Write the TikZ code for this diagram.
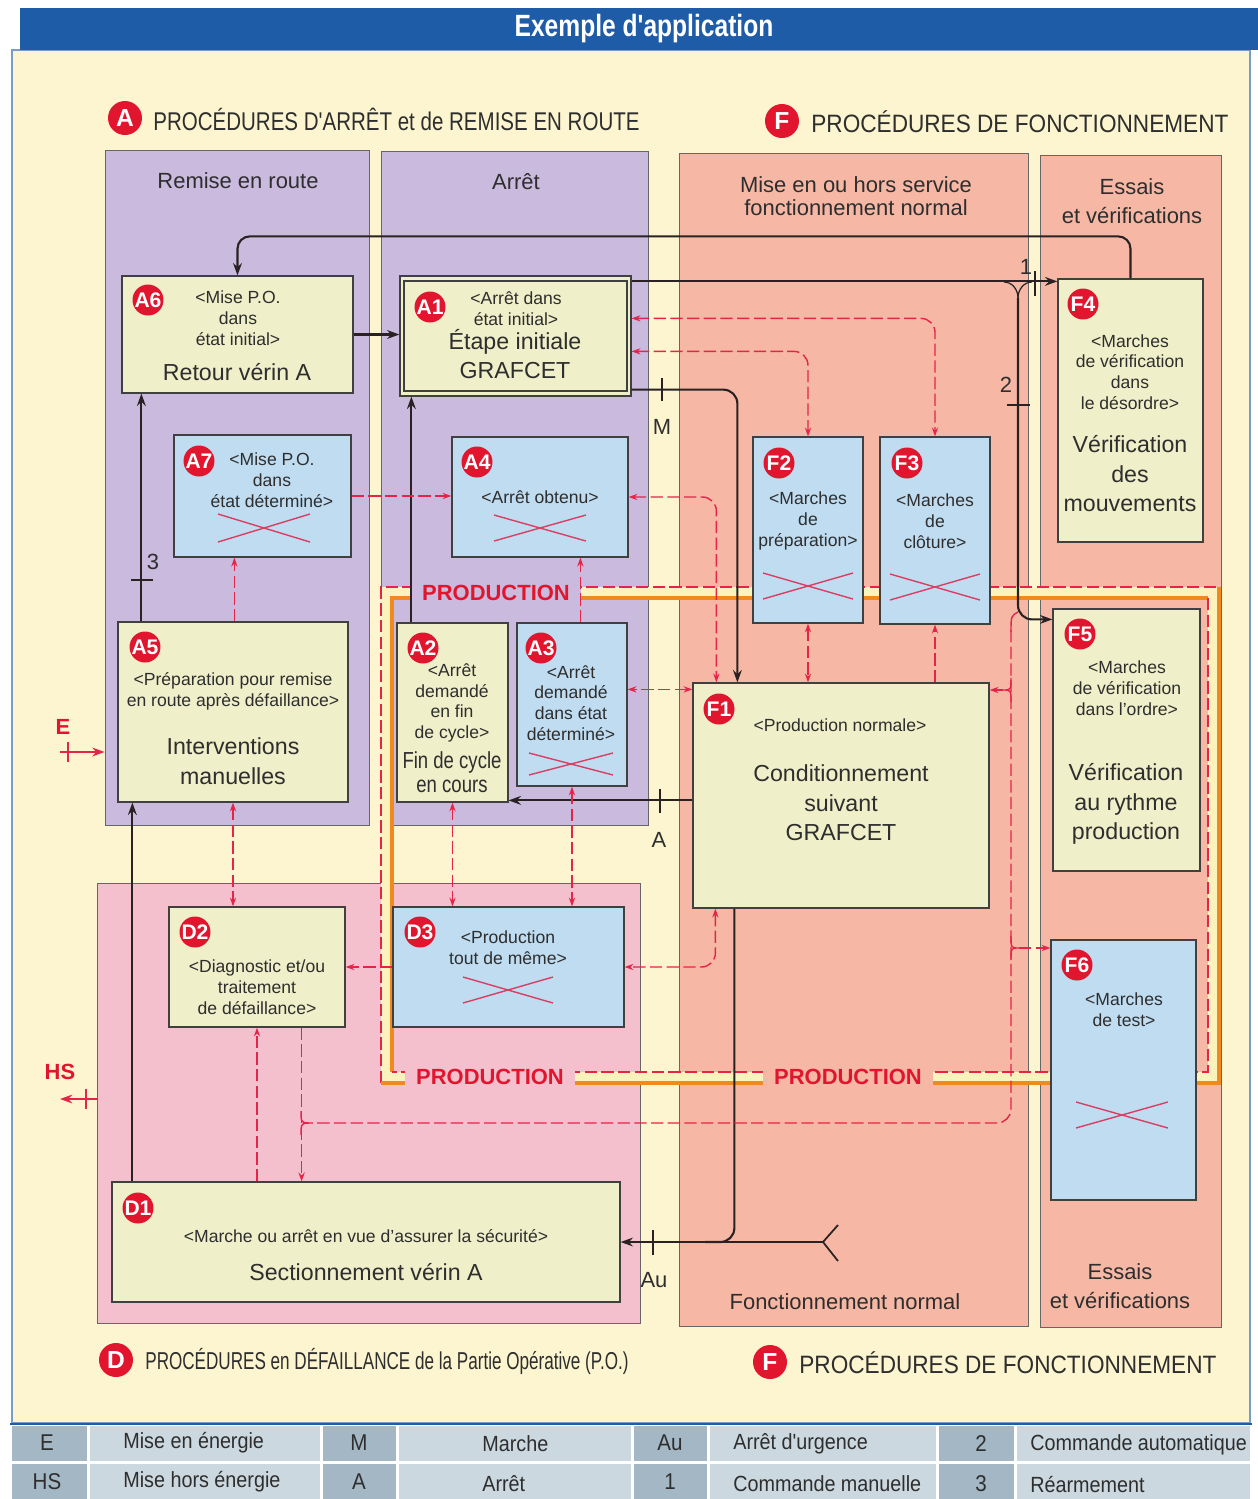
\documentclass[tikz,border=0pt]{standalone}
\usepackage{fontspec}
\setmainfont{Liberation Sans}
\newfontfamily\condA[FakeStretch=0.8]{Liberation Sans}
\newfontfamily\condB[FakeStretch=0.9]{Liberation Sans}
\newfontfamily\condC[FakeStretch=0.7]{Liberation Sans}
\usepackage{xcolor}
\usetikzlibrary{arrows.meta,positioning,calc,fit}
\definecolor{fond}{HTML}{FCF5D0}
\definecolor{bandeau}{HTML}{1F5CA8}
\definecolor{zviolet}{HTML}{C9BADE}
\definecolor{zsaumon}{HTML}{F6B8A5}
\definecolor{zrose}{HTML}{F5C0CD}
\definecolor{ecreme}{HTML}{EFEFC9}
\definecolor{ebleu}{HTML}{BFDCF1}
\definecolor{rouge}{HTML}{E1152E}
\definecolor{rtirets}{HTML}{E42449}
\definecolor{rcroix}{HTML}{DA3F63}
\definecolor{borange}{HTML}{F18A1E}
\definecolor{bcreme}{HTML}{FBF2BE}
\definecolor{encre}{HTML}{2A2222}
\definecolor{texte}{HTML}{2E2E2E}
\definecolor{lcle}{HTML}{A3B7C5}
\definecolor{lclair}{HTML}{CCD8DF}
\tikzset{
  zone/.style={draw=black!60,line width=0.5pt,inner sep=0pt},
  etape/.style={draw=black!75,fill=ecreme,line width=0.7pt,inner sep=0pt},
  etapeb/.style={etape,fill=ebleu},
  puce/.style={circle,fill=rouge,text=white,inner sep=0pt,minimum size=0.62cm,
               font=\fontsize{12}{12}\selectfont\bfseries},
  petit/.style={align=center,inner sep=0pt,text=texte,
                font=\fontsize{10}{11.8}\selectfont},
  grand/.style={align=center,inner sep=0pt,text=texte,
                font=\fontsize{13.2}{16.8}\selectfont},
  titre/.style={align=center,inner sep=0pt,text=texte,
                font=\fontsize{12.5}{16.5}\selectfont},
  entete/.style={inner sep=0pt,anchor=west,text=texte},
  repere/.style={inner sep=0pt,text=texte,font=\fontsize{12.5}{12.5}\selectfont},
  prod/.style={inner xsep=0.22cm,inner ysep=0.16cm,text=rouge,
               font=\fontsize{12.5}{12.5}\selectfont\bfseries},
  flux/.style={draw=encre,line width=1.2pt,-{Stealth[length=7pt,width=5pt]}},
  trait/.style={draw=encre,line width=1.2pt},
  cran/.style={draw=encre,line width=1pt},
  rplein/.style={draw=rtirets,line width=1pt,-{Stealth[length=7pt,width=5pt]}},
  rflux/.style={draw=rtirets,line width=0.8pt,dash pattern=on 7pt off 2.5pt,
                -{Stealth[length=5pt,width=3.5pt]}},
  rflux2/.style={rflux,{Stealth[length=5pt,width=3.5pt]}-{Stealth[length=5pt,width=3.5pt]}},
  rtrait/.style={draw=rtirets,line width=0.8pt,dash pattern=on 7pt off 2.5pt},
  rjonc/.style={draw=rtirets,line width=0.8pt},
  croix/.style={draw=rcroix,line width=0.8pt},
  bandor/.style={draw=borange,line width=1.8pt},
  bandtir/.style={draw=rtirets,line width=0.9pt,dash pattern=on 7pt off 2.5pt},
  cle/.style={inner sep=0pt,text=texte,font=\condB\fontsize{13}{13}\selectfont},
  legende/.style={inner sep=0pt,anchor=west,text=texte,
                  font=\condB\fontsize{12.5}{12.5}\selectfont}
}
\newcommand{\croix}[4]{\draw[croix] ({#1-#3},{#2-#4}) -- ({#1+#3},{#2+#4})
  ({#1-#3},{#2+#4}) -- ({#1+#3},{#2-#4});}

\begin{document}
\begin{tikzpicture}[x=0.02cm,y=-0.02cm]
  \useasboundingbox (0,0) rectangle (1258,1499);
  \fill[white] (0,0) rectangle (1258,1499);
  % cadre et bandeau
  \draw[fill=fond,draw=bandeau!60,line width=1pt] (12,50) rectangle (1250,1423);
  \fill[bandeau] (20,8) rectangle (1258,50);
  \node[text=white,font=\condA\fontsize{17.5}{17.5}\selectfont\bfseries] (titre)
    at (644,29) {Exemple d'application};

  % en-tetes
  \node[puce,minimum size=0.68cm,font=\fontsize{14}{14}\selectfont\bfseries] (pa) at (125,118) {A};
  \node[entete,font=\condA\fontsize{14.6}{14.6}\selectfont] (ha) at (153,119)
    {PROCÉDURES D'ARRÊT et de REMISE EN ROUTE};
  \node[puce,minimum size=0.68cm,font=\fontsize{14}{14}\selectfont\bfseries] (pf) at (782,121) {F};
  \node[entete,font=\condB\fontsize{14.3}{14.3}\selectfont] (hf) at (811,122)
    {PROCÉDURES DE FONCTIONNEMENT};
  \node[puce,minimum size=0.68cm,font=\fontsize{14}{14}\selectfont\bfseries] (pd) at (116,1360) {D};
  \node[entete,font=\condC\fontsize{13.9}{13.9}\selectfont] (hd) at (145,1361)
    {PROCÉDURES en DÉFAILLANCE de la Partie Opérative (P.O.)};
  \node[puce,minimum size=0.68cm,font=\fontsize{14}{14}\selectfont\bfseries] (pf2) at (770,1362) {F};
  \node[entete,font=\condB\fontsize{14.3}{14.3}\selectfont] (hf2) at (799,1363)
    {PROCÉDURES DE FONCTIONNEMENT};

  % zones
  \node[zone,fill=zviolet,fit={(105,150) (369,825)}] (zrr) {};
  \node[zone,fill=zviolet,fit={(381,151) (648,825)}] (zar) {};
  \node[zone,fill=zsaumon,fit={(679,153) (1028,1326)}] (zfn) {};
  \node[zone,fill=zsaumon,fit={(1040,155) (1221,1327)}] (zev) {};
  \node[zone,fill=zrose,fit={(97,883) (640,1323)}] (zd) {};
  \node[titre] (trr) at (238,181) {Remise en route};
  \node[titre] (tar) at (516,182) {Arrêt};
  \node[titre,font=\fontsize{12.5}{13.2}\selectfont] (tfn) at (856,196)
    {Mise en ou hors service\\fonctionnement normal};
  \node[titre] (tev) at (1132,201) {Essais\\et vérifications};
  \node[titre] (tfn2) at (845,1302) {Fonctionnement normal};
  \node[titre] (tev2) at (1120,1286) {Essais\\et vérifications};

  % boucle PRODUCTION
  \draw[draw=bcreme,line width=6.3pt] (386.5,592.5) rectangle (1213.5,1077.5);
  \draw[bandtir] (381,1083) -- (381,587) -- (1219,587);
  \draw[bandor] (381,1083) -- (1219,1083) -- (1219,587);
  \draw[bandor] (392,1072) -- (392,598) -- (1208,598);
  \draw[bandtir] (1208,598) -- (1208,1072) -- (392,1072);
  \node[prod,fill=zviolet] (prod1) at (496,593) {PRODUCTION};
  \node[prod,fill=zrose] (prod2) at (490,1077) {PRODUCTION};
  \node[prod,fill=zsaumon] (prod3) at (848,1077) {PRODUCTION};

  % etapes
  \node[etape,fit={(122,276) (353,393)}] (a6) {};
  \node[etape,fit={(400,276) (631,396)}] (a1) {};
  \node[draw=black!75,line width=0.6pt,inner sep=0pt,fit={(404,281) (627,391)}] (a1d) {};
  \node[etapeb,fit={(174,435) (351,557)}] (a7) {};
  \node[etapeb,fit={(452,437) (628,557)}] (a4) {};
  \node[etape,fit={(118,622) (348,802)}] (a5) {};
  \node[etape,fit={(397,623) (508,802)}] (a2) {};
  \node[etapeb,fit={(517,623) (627,786)}] (a3) {};
  \node[etapeb,fit={(753,437) (863,623)}] (f2) {};
  \node[etapeb,fit={(880,437) (990,624)}] (f3) {};
  \node[etape,fit={(1058,279) (1203,542)}] (f4) {};
  \node[etape,fit={(693,683) (989,908)}] (f1) {};
  \node[etape,fit={(1053,609) (1200,871)}] (f5) {};
  \node[etapeb,fit={(1051,940) (1196,1200)}] (f6) {};
  \node[etape,fit={(169,907) (345,1027)}] (d2) {};
  \node[etapeb,fit={(393,907) (624,1027)}] (d3) {};
  \node[etape,fit={(112,1182) (620,1302)}] (d1) {};

  % liaisons noires
  \draw[flux,rounded corners=7pt] (f4.north) -- ++(0,-42) -| (a6.north);
  \draw[flux] (a6.east) -- (a6.east -| a1.west);
  \coordinate (a1h) at ($(a1.north east)+(0,6)$);
  \draw[flux] (a1h) -- (a1h -| f4.west);
  \draw[cran] (1035,271) -- (1035,296);
  \node[repere] (n1) at (1026,267) {1};
  \coordinate (fk) at (1018,298);
  \draw[encre,line width=0.7pt] (1004,282) to[out=0,in=90] (fk);
  \draw[encre,line width=0.7pt] (1032,282) to[out=180,in=90] (fk);
  \coordinate (f5g) at ($(f5.north west)+(0,11)$);
  \draw[flux,rounded corners=8pt] (fk) |- (f5g);
  \draw[cran] (1007,405) -- (1030,405);
  \node[repere] (n2) at (1006,385) {2};
  \coordinate (f1m) at ($(f1.north west)+(45,0)$);
  \draw[flux,rounded corners=8pt] ($(a1.south east)+(0,-7)$) -| (f1m);
  \draw[cran] (662,378) -- (662,401);
  \node[repere] (nm) at (662,427) {M};
  \coordinate (f1a) at ($(f1.north west)+(0,118)$);
  \draw[flux] (f1a) -- (f1a -| a2.east);
  \draw[cran] (660,789) -- (660,813);
  \node[repere] (na) at (659,840) {A};
  \coordinate (a5r) at ($(a5.north west)+(24,0)$);
  \draw[flux] (a5r) -- (a5r |- a6.south);
  \draw[cran] (131,580) -- (153,580);
  \node[repere] (n3) at (153,562) {3};
  \coordinate (a2r) at ($(a2.north west)+(15,0)$);
  \draw[flux] (a2r) -- (a2r |- a1.south);
  \coordinate (d1r) at ($(d1.north west)+(21,0)$);
  \draw[flux] (d1r) -- (d1r |- a5.south);
  % arret d'urgence
  \coordinate (au) at (823,1242);
  \draw[flux] (au) -- (au -| d1.east);
  \draw[encre,line width=1pt] (au) -- ++(15,-17) (au) -- ++(15,19);
  \coordinate (f1u) at ($(f1.south west)+(42,0)$);
  \coordinate (auj) at (705,1242);
  \draw[trait,rounded corners=8pt] (f1u) |- (auj);
  \draw[cran] (653,1230) -- (653,1255);
  \node[repere] (nau) at (654,1280) {Au};
  % E et HS
  \coordinate (eg) at (60,752);
  \draw[rplein] (eg) -- (eg -| zrr.west);
  \draw[draw=rtirets,line width=1pt] (68,742) -- (68,762);
  \node[repere,text=rouge,font=\fontsize{12.5}{12.5}\selectfont\bfseries] (ne) at (63,727) {E};
  \coordinate (hs) at (60,1099);
  \draw[rplein] (hs -| zd.west) -- (hs);
  \draw[draw=rtirets,line width=1pt] (86,1089) -- (86,1109);
  \node[repere,text=rouge,font=\fontsize{12.5}{12.5}\selectfont\bfseries] (nhs) at (60,1072) {HS};

  % liaisons rouges
  \coordinate (a1f3) at ($(a1.north east)+(0,43)$);
  \draw[rflux2,rounded corners=8pt] (a1f3) -| (f3.north);
  \coordinate (a1f2) at ($(a1.north east)+(0,76)$);
  \draw[rflux2,rounded corners=8pt] (a1f2) -| (f2.north);
  \draw[rflux] (a7.east) -- (a7.east -| a4.west);
  \coordinate (a7p) at ($(a7.south west)+(61,0)$);
  \draw[rflux] (a7p |- a5.north) -- (a7p);
  \coordinate (a4p) at ($(a4.south west)+(129,0)$);
  \draw[rflux] (a4p |- a3.north) -- (a4p);
  \coordinate (f1p) at ($(f1.north west)+(24,0)$);
  \draw[rflux2,rounded corners=8pt] (a4.east) -| (f1p);
  \coordinate (f1q) at ($(f1.north west)+(0,7)$);
  \draw[rflux2] (f1q) -- (f1q -| a3.east);
  \draw[rflux2] (f2.south) -- (f2.south |- f1.north);
  \draw[rflux] (f3.south |- f1.north) -- (f3.south);
  \coordinate (f1s) at ($(f1.south west)+(23,0)$);
  \draw[rflux2,rounded corners=8pt] (f1s) |- (d3.east);
  \draw[rflux] (d3.west) -- (d3.west -| d2.east);
  \draw[rflux2] (a2.south) -- (a2.south |- d3.north);
  \draw[rflux2] (a3.south) -- (a3.south |- d3.north);
  \draw[rflux2] (a5.south) -- (a5.south |- d2.north);
  \draw[rflux] (d2.south |- d1.north) -- (d2.south);
  \coordinate (d2q) at ($(d2.south east)+(-44,0)$);
  \draw[rflux] (d2q) -- (d2q |- d1.north);
  % retour vers D
  \coordinate (jf) at (1011,1123);
  \coordinate (jd) at (313,1123);
  \draw[rtrait,rounded corners=8pt] (1011,630) -- (jf) -- (jd);
  \draw[rjonc] (jd) .. controls (301,1123) .. (301,1111)
    (jd) .. controls (301,1123) .. (301,1135);
  \draw[rjonc] (1018,612) .. controls (1011,616) .. (1011,632);
  \coordinate (jf1) at (1003,690);
  \draw[rjonc] (1011,678) .. controls (1011,690) .. (jf1)
    (1011,702) .. controls (1011,690) .. (jf1);
  \draw[rflux] (jf1) -- (jf1 -| f1.east);
  \coordinate (jf6) at (1019,948);
  \draw[rjonc] (1011,936) .. controls (1011,948) .. (jf6)
    (1011,960) .. controls (1011,948) .. (jf6);
  \draw[rflux] (jf6) -- (jf6 -| f6.west);

  % croix des etapes non utilisees
  \croix{264}{528}{46}{14}
  \croix{540}{528}{46}{13}
  \croix{571}{764}{42}{11}
  \croix{808}{586}{45}{13}
  \croix{935}{587}{45}{13}
  \croix{508}{990}{45}{13}
  \croix{1122}{1115}{46}{13}

  % textes des etapes
  \node[puce] (pa6) at (148,300) {A6};
  \node[petit] (a6t) at (238,318) {<Mise P.O.\\dans\\état initial>};
  \node[grand] (a6g) at (237,372) {Retour vérin A};
  \node[puce] (pa1) at (430,307) {A1};
  \node[petit] (a1t) at (516,309) {<Arrêt dans\\état initial>};
  \node[grand] (a1g) at (515,354) {Étape initiale\\GRAFCET};
  \node[puce] (pa7) at (199,461) {A7};
  \node[petit] (a7t) at (272,480) {<Mise P.O.\\dans\\état déterminé>};
  \node[puce] (pa4) at (477,462) {A4};
  \node[petit] (a4t) at (540,497) {<Arrêt obtenu>};
  \node[puce] (pa5) at (145,647) {A5};
  \node[petit] (a5t) at (233,691) {<Préparation pour remise\\en route après défaillance>};
  \node[grand] (a5g) at (233,761) {Interventions\\manuelles};
  \node[puce] (pa2) at (423,648) {A2};
  \node[petit] (a2t) at (452,703) {<Arrêt\\demandé\\en fin\\de cycle>};
  \node[grand,font=\condA\fontsize{13.2}{13.6}\selectfont] (a2g) at (452,772)
    {Fin de cycle\\en cours};
  \node[puce] (pa3) at (541,648) {A3};
  \node[petit] (a3t) at (571,703) {<Arrêt\\demandé\\dans état\\déterminé>};
  \node[puce] (pf2) at (779,463) {F2};
  \node[petit] (f2t) at (808,521) {<Marches\\de\\préparation>};
  \node[puce] (pf3) at (907,463) {F3};
  \node[petit] (f3t) at (935,521) {<Marches\\de\\clôture>};
  \node[puce] (pf4) at (1083,304) {F4};
  \node[petit] (f4t) at (1130,372) {<Marches\\de vérification\\dans\\le désordre>};
  \node[grand] (f4g) at (1130,474) {Vérification\\des\\mouvements};
  \node[puce] (pf1) at (719,709) {F1};
  \node[petit] (f1t) at (840,725) {<Production normale>};
  \node[grand] (f1g) at (841,803) {Conditionnement\\suivant\\GRAFCET};
  \node[puce] (pf5) at (1080,634) {F5};
  \node[petit] (f5t) at (1127,688) {<Marches\\de vérification\\dans l'ordre>};
  \node[grand] (f5g2) at (1126,804) {Vérification\\au rythme\\production};
  \node[puce] (pf6) at (1077,965) {F6};
  \node[petit] (f6t) at (1124,1010) {<Marches\\de test>};
  \node[puce] (pd2) at (195,932) {D2};
  \node[petit] (d2t) at (257,987) {<Diagnostic et/ou\\traitement\\de défaillance>};
  \node[puce] (pd3) at (420,932) {D3};
  \node[petit] (d3t) at (508,948) {<Production\\tout de même>};
  \node[puce] (pd1) at (138,1208) {D1};
  \node[petit] (d1t) at (366,1236) {<Marche ou arrêt en vue d'assurer la sécurité>};
  \node[grand] (d1g) at (366,1272) {Sectionnement vérin A};

  % legende
  \fill[white] (10,1423) rectangle (1252,1499);
  \foreach \xa/\xb/\c in {12/87/lcle,90/320/lclair,323/396/lcle,399/631/lclair,
                          634/707/lcle,710/936/lclair,939/1014/lcle,1017/1250/lclair}{
    \fill[\c] (\xa,1426) rectangle (\xb,1461);
    \fill[\c] (\xa,1464) rectangle (\xb,1499);
  }
  \draw[bandeau,line width=1.5pt] (10,1424) -- (1252,1424);
  \node[cle] (le) at (47,1443) {E};
  \node[cle] (lhs) at (47,1482) {HS};
  \node[cle] (lm) at (359,1443) {M};
  \node[cle] (la) at (359,1482) {A};
  \node[cle] (lau) at (670,1443) {Au};
  \node[cle] (l1) at (670,1482) {1};
  \node[cle] (l2) at (981,1444) {2};
  \node[cle] (l3) at (981,1484) {3};
  \node[legende] (tme) at (123,1443) {Mise en énergie};
  \node[legende] (tmhe) at (123,1482) {Mise hors énergie};
  \node[legende] (tma) at (482,1444) {Marche};
  \node[legende] (tar2) at (482,1484) {Arrêt};
  \node[legende] (tau) at (733,1444) {Arrêt d'urgence};
  \node[legende] (tcm) at (733,1484) {Commande manuelle};
  \node[legende] (tca) at (1030,1445) {Commande automatique};
  \node[legende] (tre) at (1030,1485) {Réarmement};
\end{tikzpicture}
\end{document}
